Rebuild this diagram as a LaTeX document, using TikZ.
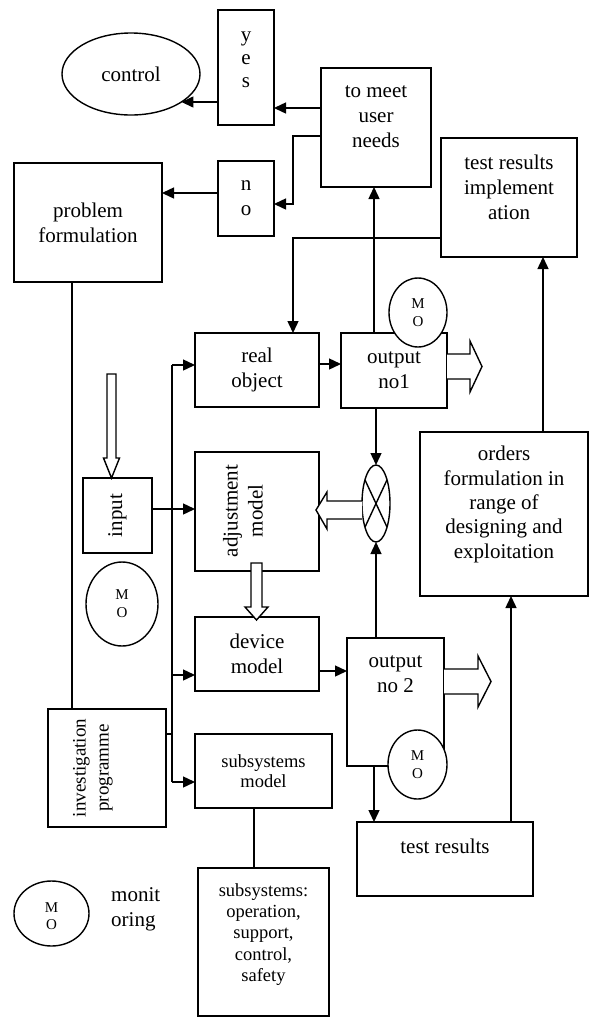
\documentclass[tikz,border=0pt]{standalone}
\usepackage{fontspec}
\setmainfont{Liberation Serif}
\usetikzlibrary{arrows.meta,shapes.geometric}
\tikzset{
  box/.style={draw, line width=1.4pt, rectangle, inner sep=0pt, outer sep=0pt, fill=white, align=center, font=\fontsize{21}{25}\selectfont},
  oval/.style={draw, line width=1.4pt, ellipse, inner sep=0pt, outer sep=0pt, fill=white, align=center, font=\fontsize{21}{25}\selectfont},
  txt/.style={inner sep=0pt, align=center, font=\fontsize{21}{25}\selectfont},
  mo/.style={oval, font=\fontsize{15}{18}\selectfont},
  conn/.style={line width=1.4pt},
  arr/.style={conn, -{Triangle[length=12pt,width=11pt]}},
  hollow/.style={line width=1.4pt, fill=white, line join=miter},
}
\newcommand{\bx}[7][]{\node[box,#1,minimum width={#5-#3},minimum height={#6-#4}] (#2) at ({(#3+#5)/2},{(#4+#6)/2}) {#7};}
\begin{document}
\begin{tikzpicture}[x=1pt,y=-1pt]
\useasboundingbox (0,0) rectangle (589,1018);
% boxes
\bx{yes}{218}{10}{274}{125}{}
\node[txt, font=\fontsize{21}{23}\selectfont] (yest) at (246,60) {y\\e\\s};
\bx{no}{218}{161}{274}{236}{n\\o}
\bx{prob}{14}{163}{162}{282}{problem\\formulation}
\bx{meet}{321}{68}{431}{187}{}
\node[txt] (meett) at (376,117) {to meet\\user\\needs};
\bx{timpl}{441}{138}{577}{257}{}
\node[txt] (timplt) at (509,187) {test results\\implement\\ation};
\bx{real}{195}{333}{319}{407}{real\\object}
\bx{out1}{341}{333}{447}{408}{output\\no1}
\bx{input}{83}{478}{152}{553}{}
\node[txt, rotate=90] (inputt) at (117.5,515.5) {input};
\bx{adj}{195}{452}{319}{571}{}
\node[txt, rotate=90] (adjt) at (243,511) {adjustment\\model};
\bx{dev}{195}{617}{319}{691}{device\\model}
\bx{out2}{347}{638}{444}{766}{}
\node[txt] (out2t) at (395.5,674.5) {output\\no 2};
\bx{inv}{48}{709}{166}{827}{}
\node[txt, rotate=90, font=\fontsize{19}{23}\selectfont] (invt) at (93,768) {investigation\\programme};
\bx[font=\fontsize{18.5}{20}\selectfont]{sub}{195}{734}{332}{808}{subsystems\\model}
\bx{subs}{198}{868}{329}{1016}{}
\node[txt, font=\fontsize{18.5}{21.2}\selectfont] (subst) at (263.5,934.5) {subsystems:\\operation,\\support,\\control,\\safety};
\bx{tres}{357}{822}{533}{896}{}
\node[txt] (trest) at (445,846) {test results};
\bx{orders}{420}{432}{588}{596}{}
\node[txt, font=\fontsize{21}{24.3}\selectfont] (orderst) at (504,504.5) {orders\\formulation in\\range of\\designing and\\exploitation};
% ellipses
\node[oval, minimum width=138, minimum height=82] (control) at (131,74) {control};
\node[oval, minimum width=28, minimum height=77] (cross) at (376,503.5) {};
\draw[conn] (cross.115) -- (cross.-65);
\draw[conn] (cross.65) -- (cross.-115);
% hollow arrows
\draw[hollow] (107,374) -- (116,374) -- (116,458) -- (119.5,458) -- (111.5,478) -- (103.5,458) -- (107,458) -- cycle;
\draw[hollow] (447,354) -- (470,354) -- (470,341) -- (482,366.5) -- (470,392) -- (470,379) -- (447,379);
\draw[hollow] (362,501) -- (327,501) -- (327,492) -- (316,510) -- (327,529) -- (327,519) -- (362,519);
\draw[hollow] (251,563) -- (262,563) -- (262,607) -- (268,607) -- (256.5,620) -- (245,607) -- (251,607) -- cycle;
\draw[hollow] (444,669) -- (478,669) -- (478,656) -- (491,681.5) -- (478,707) -- (478,694) -- (444,694);
% connectors
\draw[arr] (meet.west |- 0,108) -- (yes.east |- 0,108);
\draw[arr] (yes.west |- 0,102) -- (control.-29 |- 0,102);
\draw[arr] (meet.west |- 0,136) -- (293,136) |- (no.east |- 0,204);
\draw[arr] (no.west |- 0,193) -- (prob.east |- 0,193);
\draw[arr] (out1.north -| 374,0) -- (meet.south -| 374,0);
\draw[arr] (timpl.west |- 0,238) -| (real.north -| 293,0);
\draw[arr] (orders.north -| 543,0) -- (timpl.south -| 543,0);
\draw[arr] (real.east |- 0,364) -- (out1.west |- 0,364);
\draw[arr] (out1.south -| cross.north) -- (cross.north);
\draw[arr] (out2.north -| cross.south) -- (cross.south);
\draw[arr] (out2.south -| 374,0) -- (tres.north -| 374,0);
\draw[arr] (tres.north -| 511,0) -- (orders.south -| 511,0);
\draw[arr] (dev.east |- 0,671) -- (out2.west |- 0,671);
\draw[arr] (input.east |- 0,509) -- (adj.west |- 0,509);
\coordinate (bt) at (172,365);
\coordinate (bb) at (172,782);
\draw[conn] (bt) -- (bb);
\draw[arr] (bt) -- (real.west |- bt);
\draw[arr] (bt |- 0,675) -- (dev.west |- 0,675);
\draw[arr] (bb) -- (sub.west |- bb);
\draw[conn] (inv.east |- 0,734) -- (bt |- 0,734);
\draw[conn] (prob.south -| 72,0) -- (inv.north -| 72,0);
\draw[conn] (sub.south -| 254,0) -- (subs.north -| 254,0);
% monitoring ovals
\node[mo, minimum width=58, minimum height=69] (mo1) at (418,312.5) {M\\O};
\node[mo, minimum width=72, minimum height=84] (mo2) at (122,604) {M\\O};
\node[mo, minimum width=59, minimum height=69] (mo3) at (417.5,764.5) {M\\O};
\node[oval, minimum width=75, minimum height=65] (moL) at (51.5,913.5) {};
\begin{scope}
\clip (0,0) rectangle (589,929);
\node[txt, font=\fontsize{15}{17}\selectfont] (moLt) at (51.5,916.5) {M\\O};
\end{scope}
\node[txt, anchor=west, align=left] (monit) at (111,909.5) {monit\\oring};
\end{tikzpicture}
\end{document}
